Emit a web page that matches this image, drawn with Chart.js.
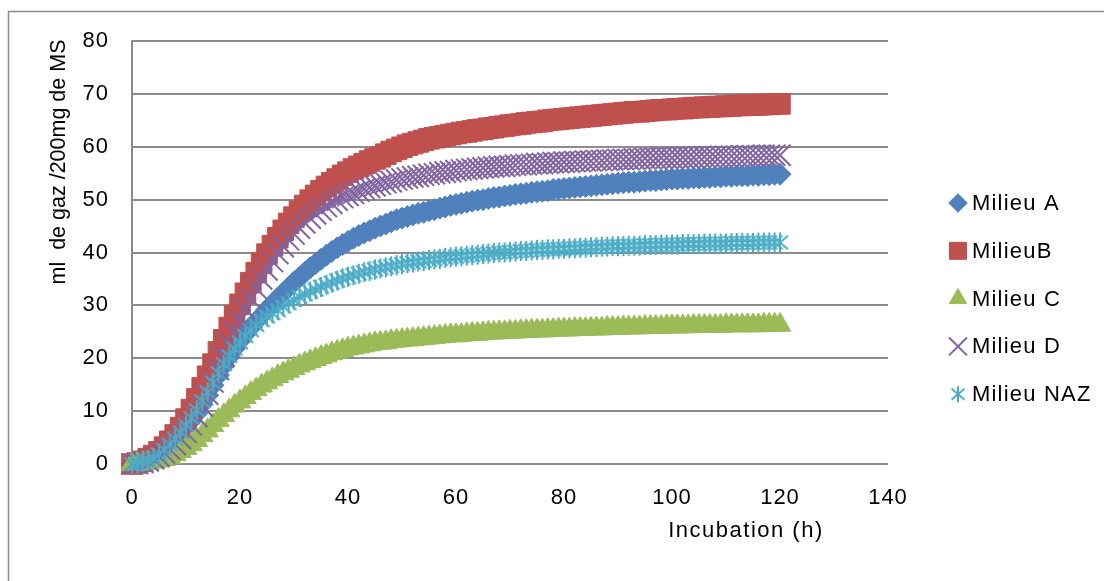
<!DOCTYPE html>
<html lang="fr">
<head>
<meta charset="utf-8">
<title>Production de gaz</title>
<script src="https://cdn.jsdelivr.net/npm/chart.js@4.4.1/dist/chart.umd.min.js"></script>
<style>
  html, body { margin: 0; padding: 0; background: #fff; }
  #cadre { position: relative; width: 1104px; height: 581px; }
</style>
</head>
<body>
<div id="cadre"><canvas id="graphique"></canvas></div>
<script>
// Temps d'incubation (h) : une mesure par heure, de 0 à 120 h
const heures = Array.from({ length: 121 }, (_, i) => i);

// Volume de gaz cumulé (ml / 200 mg de MS)
const milieuA = [
  0, 0.1, 0.3, 0.6, 1.0, 1.7, 2.5, 3.4, 4.5, 5.7,
  6.9, 8.2, 9.6, 11.3, 13.0, 14.9, 16.8, 18.6, 20.3, 21.9,
  23.3, 24.6, 25.8, 27.0, 28.1, 29.2, 30.3, 31.4, 32.4, 33.4,
  34.4, 35.3, 36.2, 37.1, 37.9, 38.7, 39.5, 40.2, 40.9, 41.5,
  42.1, 42.7, 43.2, 43.7, 44.1, 44.6, 45.0, 45.4, 45.8, 46.2,
  46.5, 46.8, 47.1, 47.4, 47.6, 47.9, 48.1, 48.4, 48.6, 48.9,
  49.1, 49.3, 49.5, 49.7, 49.9, 50.0, 50.2, 50.4, 50.5, 50.7,
  50.8, 51.0, 51.1, 51.2, 51.4, 51.5, 51.6, 51.7, 51.9, 52.0,
  52.1, 52.2, 52.3, 52.4, 52.5, 52.6, 52.7, 52.8, 52.9, 53.0,
  53.1, 53.2, 53.3, 53.3, 53.4, 53.5, 53.6, 53.6, 53.7, 53.8,
  53.9, 53.9, 54.0, 54.0, 54.1, 54.1, 54.2, 54.2, 54.3, 54.3,
  54.4, 54.4, 54.5, 54.5, 54.5, 54.6, 54.6, 54.7, 54.7, 54.8,
  54.8
];
const milieuB = [
  0, 0.2, 0.5, 1.0, 1.6, 2.3, 3.2, 4.3, 5.5, 6.9,
  8.5, 10.3, 12.3, 14.4, 16.6, 18.9, 21.2, 23.5, 25.8, 28.0,
  30.2, 32.3, 34.3, 36.2, 38.0, 39.7, 41.3, 42.8, 44.2, 45.5,
  46.7, 47.8, 48.9, 49.9, 50.8, 51.7, 52.5, 53.2, 53.9, 54.6,
  55.2, 55.8, 56.3, 56.8, 57.3, 57.7, 58.1, 58.6, 59.1, 59.5,
  59.9, 60.3, 60.6, 60.9, 61.2, 61.5, 61.7, 61.9, 62.1, 62.3,
  62.5, 62.7, 62.8, 63.0, 63.2, 63.3, 63.5, 63.6, 63.8, 63.9,
  64.1, 64.2, 64.3, 64.5, 64.6, 64.7, 64.8, 65.0, 65.1, 65.2,
  65.3, 65.4, 65.5, 65.6, 65.7, 65.8, 65.9, 66.0, 66.1, 66.2,
  66.3, 66.4, 66.5, 66.6, 66.6, 66.7, 66.8, 66.9, 67.0, 67.0,
  67.1, 67.2, 67.2, 67.3, 67.4, 67.4, 67.5, 67.5, 67.6, 67.6,
  67.7, 67.7, 67.8, 67.8, 67.9, 67.9, 67.9, 68.0, 68.0, 68.1,
  68.1
];
const milieuC = [
  0, 0.0, 0.1, 0.2, 0.4, 0.6, 0.9, 1.3, 1.8, 2.4,
  3.0, 3.7, 4.5, 5.4, 6.3, 7.3, 8.3, 9.2, 10.1, 11.0,
  11.8, 12.6, 13.4, 14.1, 14.8, 15.4, 16.0, 16.6, 17.1, 17.6,
  18.1, 18.6, 19.0, 19.4, 19.8, 20.2, 20.5, 20.9, 21.2, 21.5,
  21.8, 22.0, 22.2, 22.4, 22.6, 22.8, 22.9, 23.0, 23.2, 23.3,
  23.4, 23.5, 23.6, 23.7, 23.8, 23.9, 24.0, 24.1, 24.2, 24.3,
  24.3, 24.4, 24.5, 24.6, 24.6, 24.7, 24.8, 24.8, 24.9, 24.9,
  25.0, 25.0, 25.1, 25.1, 25.2, 25.2, 25.2, 25.3, 25.3, 25.4,
  25.4, 25.4, 25.5, 25.5, 25.5, 25.6, 25.6, 25.6, 25.7, 25.7,
  25.7, 25.8, 25.8, 25.8, 25.8, 25.9, 25.9, 25.9, 25.9, 26.0,
  26.0, 26.0, 26.0, 26.0, 26.1, 26.1, 26.1, 26.1, 26.1, 26.1,
  26.2, 26.2, 26.2, 26.2, 26.2, 26.2, 26.2, 26.3, 26.3, 26.3,
  26.3
];
const milieuD = [
  0, 0.1, 0.3, 0.6, 1.0, 1.5, 2.1, 2.8, 3.7, 4.8,
  6.0, 7.4, 9.0, 11.0, 13.2, 15.5, 17.9, 20.3, 22.7, 25.0,
  27.2, 29.3, 31.3, 33.2, 35.0, 36.7, 38.3, 39.8, 41.1, 42.4,
  43.5, 44.6, 45.6, 46.5, 47.3, 48.0, 48.7, 49.3, 49.9, 50.4,
  50.8, 51.2, 51.6, 52.0, 52.3, 52.6, 52.9, 53.2, 53.4, 53.7,
  53.9, 54.1, 54.3, 54.4, 54.6, 54.8, 54.9, 55.1, 55.2, 55.3,
  55.5, 55.6, 55.7, 55.8, 55.9, 56.0, 56.1, 56.2, 56.3, 56.3,
  56.4, 56.5, 56.6, 56.6, 56.7, 56.8, 56.8, 56.9, 57.0, 57.0,
  57.1, 57.1, 57.2, 57.2, 57.3, 57.3, 57.4, 57.4, 57.5, 57.5,
  57.6, 57.6, 57.6, 57.7, 57.7, 57.8, 57.8, 57.8, 57.9, 57.9,
  57.9, 58.0, 58.0, 58.0, 58.0, 58.1, 58.1, 58.1, 58.1, 58.2,
  58.2, 58.2, 58.2, 58.3, 58.3, 58.3, 58.3, 58.4, 58.4, 58.4,
  58.4
];
const milieuNAZ = [
  0, 0.1, 0.3, 0.6, 1.1, 1.8, 2.7, 3.7, 4.8, 6.0,
  7.3, 8.7, 10.2, 11.9, 13.6, 15.4, 17.2, 18.9, 20.4, 21.8,
  23.0, 24.2, 25.3, 26.3, 27.2, 27.9, 28.5, 29.1, 29.8, 30.4,
  31.0, 31.6, 32.1, 32.6, 33.0, 33.5, 33.9, 34.3, 34.7, 35.1,
  35.4, 35.7, 36.0, 36.3, 36.5, 36.8, 37.0, 37.2, 37.4, 37.6,
  37.8, 38.0, 38.1, 38.3, 38.4, 38.6, 38.7, 38.8, 39.0, 39.1,
  39.2, 39.3, 39.4, 39.5, 39.6, 39.7, 39.8, 39.9, 40.0, 40.0,
  40.1, 40.2, 40.3, 40.3, 40.4, 40.5, 40.5, 40.6, 40.6, 40.7,
  40.7, 40.8, 40.8, 40.9, 40.9, 41.0, 41.0, 41.1, 41.1, 41.2,
  41.2, 41.2, 41.3, 41.3, 41.3, 41.4, 41.4, 41.4, 41.5, 41.5,
  41.5, 41.5, 41.6, 41.6, 41.6, 41.6, 41.7, 41.7, 41.7, 41.7,
  41.7, 41.8, 41.8, 41.8, 41.8, 41.8, 41.9, 41.9, 41.9, 41.9,
  41.9
];

const noms = ['Milieu A', 'MilieuB', 'Milieu C', 'Milieu D', 'Milieu NAZ'];
const graduationsX = [0, 20, 40, 60, 80, 100, 120, 140];
const graduationsY = [0, 10, 20, 30, 40, 50, 60, 70, 80];

const POLICE = "'Liberation Sans', Arial, sans-serif";
const GRIS = '#8c8c8c';

// marqueur astérisque (trait vertical + croix)
function creerAsterisque(couleur, taille) {
    const c = document.createElement('canvas');
    c.width = taille;
    c.height = taille;
    const g = c.getContext('2d');
    const m = taille / 2, a = taille * 0.36;
    g.strokeStyle = couleur;
    g.lineWidth = 2;
    g.beginPath();
    g.moveTo(m, 1); g.lineTo(m, taille - 1);
    g.moveTo(m - a, m - a * 0.85); g.lineTo(m + a, m + a * 0.85);
    g.moveTo(m - a, m + a * 0.85); g.lineTo(m + a, m - a * 0.85);
    g.stroke();
    return c;
}

function serie(label, valeurs, couleur, style, rayon, epaisseur, ordre, styleLegende, rayonLegende) {
    return {
        label: label,
        data: heures.map((h, i) => ({ x: h, y: valeurs[i] })),
        showLine: false,
        pointStyle: style,
        pointRadius: rayon,
        pointHoverRadius: rayon,
        pointBackgroundColor: couleur,
        pointBorderColor: couleur,
        pointBorderWidth: epaisseur,
        order: ordre,
        clip: false,
        styleLegende: styleLegende || style,
        rayonLegende: rayonLegende
    };
}

// Cadre, titres des axes et légende dessinés à la main
const habillage = {
    id: 'habillage',
    beforeDraw(chart) {
        const ctx = chart.ctx;
        ctx.save();
        ctx.strokeStyle = GRIS;
        ctx.lineWidth = 1.5;
        ctx.beginPath();
        ctx.moveTo(8.5, chart.height);
        ctx.lineTo(8.5, 11.5);
        ctx.lineTo(chart.width, 11.5);
        ctx.stroke();
        ctx.restore();
        // léger espacement des lettres pour les graduations
        ctx.letterSpacing = '1px';
    },
    afterDraw(chart) {
        const ctx = chart.ctx;
        ctx.save();
        ctx.fillStyle = '#000';
        ctx.font = '22px ' + POLICE;
        ctx.letterSpacing = '1.5px';
        ctx.textAlign = 'center';
        ctx.textBaseline = 'middle';
        ctx.fillText('Incubation (h)', 746, 531);

        ctx.save();
        ctx.translate(65, 162);
        ctx.rotate(-Math.PI / 2);
        ctx.textBaseline = 'alphabetic';
        ctx.font = '21.5px ' + POLICE;
        ctx.letterSpacing = '0px';
        ctx.fillText('ml  de gaz /200mg de MS', 0, 0);
        ctx.restore();

        ctx.textAlign = 'left';
        ctx.letterSpacing = '1.2px';
        chart.data.datasets.forEach((ds, i) => {
            const y = 203 + i * 47.8;
            ctx.fillStyle = ds.pointBackgroundColor;
            ctx.strokeStyle = ds.pointBorderColor;
            ctx.lineWidth = ds.pointBorderWidth;
            Chart.helpers.drawPoint(ctx, {
                pointStyle: ds.styleLegende,
                radius: ds.rayonLegende,
                borderWidth: ds.pointBorderWidth,
                rotation: 0
            }, 958, y);
            ctx.fillStyle = '#000';
            ctx.fillText(ds.label, 972, y + 1);
        });
        ctx.restore();
    }
};

Chart.defaults.font.family = POLICE;
Chart.defaults.font.size = 22;
Chart.defaults.color = '#000';

const cyan = '#4BACC6';

new Chart(document.getElementById('graphique'), {
    type: 'scatter',
    data: {
        datasets: [
            serie(noms[0], milieuA, '#4F81BD', 'rectRot', 11, 1, 5, null, 9.3),
            serie(noms[1], milieuB, '#C0504D', 'rect', 14.5, 1, 4, null, 12),
            serie(noms[2], milieuC, '#9BBB59', 'triangle', 12.5, 1, 3, null, 10),
            serie(noms[3], milieuD, '#8064A2', 'crossRot', 15, 2, 2, null, 12.7),
            serie(noms[4], milieuNAZ, cyan, creerAsterisque(cyan, 22), 11, 2, 1, creerAsterisque(cyan, 18), 9)
        ]
    },
    options: {
        responsive: true,
        maintainAspectRatio: false,
        animation: false,
        events: [],
        layout: {
            padding: { top: 41, right: 216, left: 0, bottom: 0 }
        },
        scales: {
            x: {
                type: 'linear',
                min: 0,
                max: 140,
                afterBuildTicks: s => { s.ticks = graduationsX.map(v => ({ value: v })); },
                afterFit: s => { s.height = 117; },
                grid: { display: false, drawTicks: false },
                border: { display: false },
                ticks: { padding: 21, maxRotation: 0 }
            },
            y: {
                type: 'linear',
                min: 0,
                max: 80,
                afterBuildTicks: s => { s.ticks = graduationsY.map(v => ({ value: v })); },
                afterFit: s => { s.width = 132; },
                grid: { color: GRIS, lineWidth: 2, drawTicks: false },
                border: { display: true, color: GRIS, width: 2 },
                ticks: { padding: 23 }
            }
        },
        plugins: {
            legend: { display: false },
            tooltip: { enabled: false }
        }
    },
    plugins: [habillage]
});
</script>
</body>
</html>
